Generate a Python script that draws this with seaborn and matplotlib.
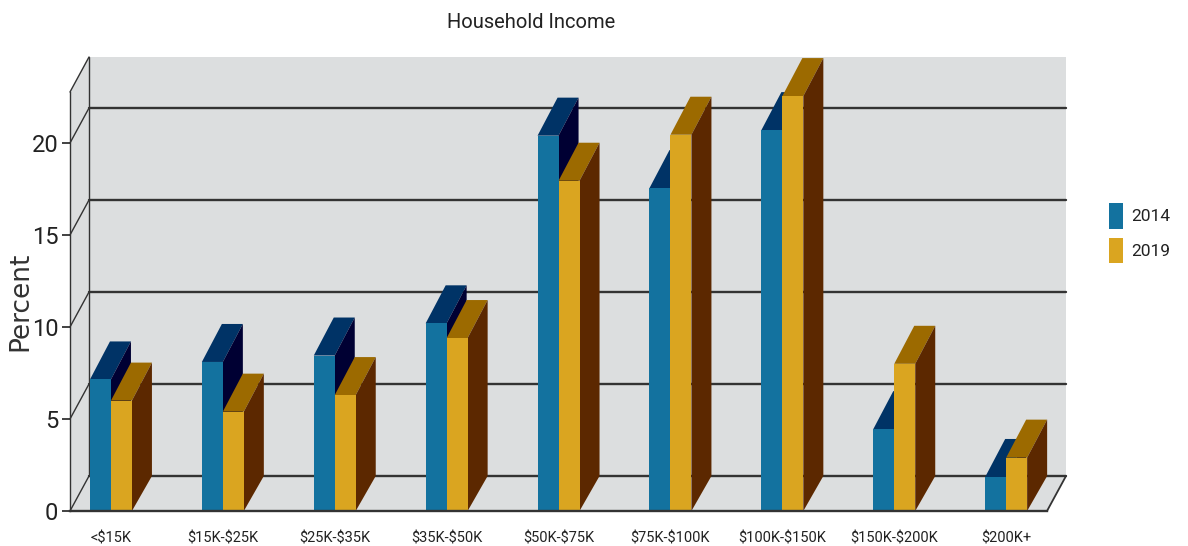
import pandas as pd
import seaborn as sns
import matplotlib.pyplot as plt
from matplotlib.patches import Polygon, Rectangle

categories = ['<$15K', '$15K-$25K', '$25K-$35K', '$35K-$50K', '$50K-$75K',
              '$75K-$100K', '$100K-$150K', '$150K-$200K', '$200K+']
values_2014 = [7.15, 8.1, 8.45, 10.2, 20.4, 17.55, 20.7, 4.45, 1.85]
values_2019 = [6.0, 5.4, 6.3, 9.4, 17.95, 20.45, 22.55, 8.0, 2.9]
y_ticks = [0, 5, 10, 15, 20]

FRONT = {'2014': '#13729F', '2019': '#DAA520'}
TOP = {'2014': '#003366', '2019': '#9C6A00'}
SIDE = {'2014': '#000033', '2019': '#5C2800'}
WALL = '#DCDEDF'
LINE = '#333333'


def main():
    sns.set_theme(style='white')
    plt.rcParams['font.family'] = ['Roboto', 'DejaVu Sans']
    plt.rcParams['text.parse_math'] = False  # the $ in the labels are plain text

    df = pd.DataFrame({
        'Income': categories * 2,
        'Percent': values_2014 + values_2019,
        'Year': ['2014'] * len(categories) + ['2019'] * len(categories),
    })

    W, H = 1188, 546
    fig = plt.figure(figsize=(W / 100, H / 100), dpi=100)
    ax = fig.add_axes([70 / W, (H - 511) / H, 977 / W, 419 / H])

    # one category = 111.9 px, one percent = 18.4 px
    sns.barplot(data=df, x='Income', y='Percent', hue='Year', order=categories,
                hue_order=['2014', '2019'], palette=FRONT, width=0.375, gap=0,
                saturation=1, linewidth=0, ax=ax, legend=True)
    ax.set_xlim(-0.366, 8.365)
    ymax = 419 / 18.4
    ax.set_ylim(0, ymax)
    box_dx, box_dy = 19 / 111.9, 35 / 18.4  # depth of the box
    bar_dx, bar_dy = 20 / 111.9, 38 / 18.4  # depth of a bar at its top
    x0, x1 = ax.get_xlim()

    # pseudo 3D box: left wall, back wall, floor
    box = [(x0, 0), (x0, ymax), (x0 + box_dx, ymax + box_dy), (x1 + box_dx, ymax + box_dy),
           (x1 + box_dx, box_dy), (x1, 0)]
    ax.add_patch(Polygon(box, fc=WALL, ec='none', zorder=0, clip_on=False))
    for t in y_ticks:
        ax.plot([x0 + box_dx, x1 + box_dx], [t + box_dy, t + box_dy], color=LINE, lw=1.7,
                zorder=1, clip_on=False)
        ax.plot([x0, x0 + box_dx], [t, t + box_dy], color=LINE, lw=1.0, zorder=1, clip_on=False)
    ax.plot([x0, x0 + box_dx], [ymax, ymax + box_dy], color=LINE, lw=1.0, zorder=1, clip_on=False)
    ax.plot([x0 + box_dx, x0 + box_dx], [box_dy, ymax + box_dy], color=LINE, lw=1.0,
            zorder=1, clip_on=False)
    ax.plot([x1, x1 + box_dx], [0, box_dy], color=LINE, lw=1.3, zorder=1, clip_on=False)

    # top and side faces of each bar, cut off at the top of the back wall
    clip = Rectangle((0, 0), W, H - 57, transform=None)
    for n, (year, cont) in enumerate(zip(['2014', '2019'], ax.containers)):
        for bar in cont:
            left, w, h = bar.get_x(), bar.get_width(), bar.get_height()
            right = left + w
            bar.set_zorder(3 + 2 * n)
            top = Polygon([(left, h), (right, h), (right + bar_dx, h + bar_dy), (left + bar_dx, h + bar_dy)],
                          fc=TOP[year], ec='none', zorder=2 + 2 * n)
            side = Polygon([(right, 0), (right + bar_dx, box_dy), (right + bar_dx, h + bar_dy), (right, h)],
                           fc=SIDE[year], ec='none', zorder=2 + 2 * n)
            for face in (top, side):
                ax.add_patch(face)
                face.set_clip_path(clip)

    sns.despine(ax=ax, top=True, right=True, left=False, bottom=False)
    ax.spines['left'].set_color(LINE)
    ax.spines['left'].set_linewidth(1.0)
    ax.spines['bottom'].set_color(LINE)
    ax.spines['bottom'].set_linewidth(1.7)
    ax.spines['bottom'].set_zorder(8)

    ax.set_yticks(y_ticks)
    ax.tick_params(axis='y', left=True, length=5.5, width=1.3, color=LINE,
                   pad=3, labelsize=17, labelcolor='#222222')
    ax.tick_params(axis='x', bottom=False, pad=9, labelsize=10.5, labelcolor='#222222')
    ax.set_xlabel('')
    ax.set_ylabel('')

    fig.text(20 / W, 1 - 301 / H, 'Percent', rotation=90, ha='center', va='center',
             family='DejaVu Sans', fontsize=19, color='#333333')
    fig.text(531 / W, 1 - 23 / H, 'Household Income', ha='center', va='center',
             fontsize=14.5, color='#222222')

    handles, labels = ax.get_legend_handles_labels()
    ax.legend(handles, labels, loc='upper left', frameon=False, fontsize=12.5,
              bbox_to_anchor=(1109 / W, 1 - 203 / H), bbox_transform=fig.transFigure,
              handlelength=0.8, handleheight=1.9, handletextpad=0.5, labelspacing=0.52,
              borderpad=0, borderaxespad=0, labelcolor='#222222')

    fig.savefig('out.png', dpi=100)


if __name__ == '__main__':
    main()
